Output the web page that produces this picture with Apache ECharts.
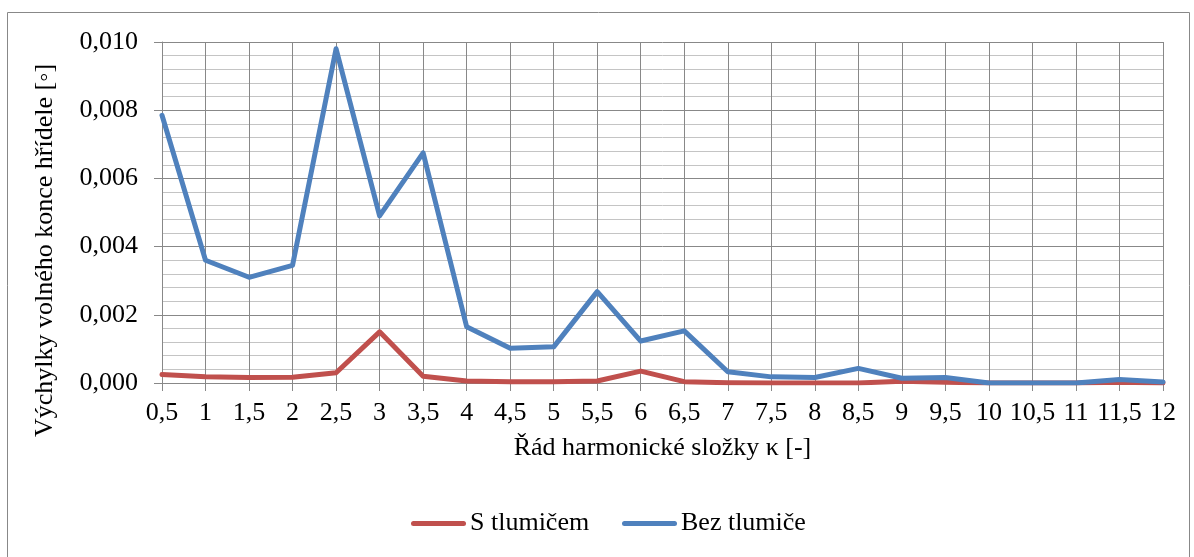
<!DOCTYPE html>
<html>
<head>
<meta charset="utf-8">
<script src="https://cdn.jsdelivr.net/npm/echarts@6/dist/echarts.min.js"></script>
<style>
  html, body { margin: 0; padding: 0; background: #fff; }
  #chart { width: 1194px; height: 557px; }
</style>
</head>
<body>
<div id="chart"></div>
<script>
// harmonic order (x categories)
var orders = ['0,5', '1', '1,5', '2', '2,5', '3', '3,5', '4', '4,5', '5', '5,5', '6',
              '6,5', '7', '7,5', '8', '8,5', '9', '9,5', '10', '10,5', '11', '11,5', '12'];

var sTlumicem = [0.00025, 0.00018, 0.00016, 0.00017, 0.00030, 0.00150, 0.00020, 0.00006,
                 0.00004, 0.00004, 0.00006, 0.00035, 0.00004, 0.00001, 0.00000, 0.00000,
                 0.00000, 0.00005, 0.00002, 0.00000, 0.00000, 0.00000, 0.00002, 0.00000];

var bezTlumice = [0.00785, 0.00360, 0.00310, 0.00345, 0.00980, 0.00490, 0.00675, 0.00165,
                  0.00102, 0.00106, 0.00268, 0.00123, 0.00153, 0.00033, 0.00018, 0.00016,
                  0.00043, 0.00014, 0.00016, 0.00000, 0.00000, 0.00000, 0.00010, 0.00003];

var seriesNames = ['S tlumičem', 'Bez tlumiče'];
var seriesColors = ['#C0504D', '#4F81BD'];

var font = 'Liberation Serif';
var fs = 26;

// legend drawn as graphic so it keeps the serif font
var legendItems = [];
var lx = [411, 622];
seriesNames.forEach(function (n, i) {
    legendItems.push({
        type: 'rect',
        shape: { x: lx[i], y: 521, width: 55, height: 5, r: 2.5 },
        style: { fill: seriesColors[i] },
        silent: true
    });
    legendItems.push({
        type: 'text',
        x: lx[i] + 59, y: 523,
        style: { text: n, fontFamily: font, fontSize: fs, fill: '#000', verticalAlign: 'middle' },
        silent: true
    });
});

var myChart = echarts.init(document.getElementById('chart'));
var option = {
    animation: false,
    textStyle: { fontFamily: font, color: '#000' },
    graphic: [{
        type: 'rect',
        shape: { x: 7.5, y: 12.5, width: 1182, height: 560 },
        style: { fill: 'none', stroke: '#888', lineWidth: 1 },
        silent: true
    }].concat(legendItems),
    grid: { left: 162, right: 31, top: 42, bottom: 174 },
    xAxis: {
        type: 'category',
        data: orders,
        boundaryGap: false,
        name: 'Řád harmonické složky κ [-]',
        nameLocation: 'middle',
        nameGap: 52,
        nameTextStyle: { fontFamily: font, fontSize: fs, color: '#000' },
        axisLine: { lineStyle: { color: '#888' } },
        axisTick: { show: true, length: 8, alignWithLabel: true, lineStyle: { color: '#888' } },
        axisLabel: { fontFamily: font, fontSize: fs, color: '#000', margin: 17, interval: 0 },
        splitLine: { show: true, lineStyle: { color: '#888', width: 1 } }
    },
    yAxis: {
        type: 'value',
        min: 0,
        max: 0.01,
        interval: 0.002,
        name: 'Výchylky volného konce hřídele [◦]',
        nameLocation: 'middle',
        nameGap: 104,
        nameTextStyle: { fontFamily: font, fontSize: fs, color: '#000', padding: [0, 76, 0, 0] },
        axisLine: { show: true, lineStyle: { color: '#888' } },
        axisTick: { show: true, length: 8, lineStyle: { color: '#888' } },
        axisLabel: {
            fontFamily: font, fontSize: fs, color: '#000', margin: 24,
            formatter: function (v) { return v.toFixed(3).replace('.', ','); }
        },
        splitLine: { show: true, lineStyle: { color: '#888', width: 1 } },
        minorTick: { show: false, splitNumber: 5 },
        minorSplitLine: { show: true, lineStyle: { color: '#c4c4c4', width: 1 } }
    },
    series: [
        {
            name: seriesNames[0],
            type: 'line',
            data: sTlumicem,
            symbol: 'none',
            lineStyle: { color: seriesColors[0], width: 5, cap: 'round', join: 'round' },
            itemStyle: { color: seriesColors[0] }
        },
        {
            name: seriesNames[1],
            type: 'line',
            data: bezTlumice,
            symbol: 'none',
            lineStyle: { color: seriesColors[1], width: 5, cap: 'round', join: 'round' },
            itemStyle: { color: seriesColors[1] }
        }
    ]
};
myChart.setOption(option);
window.addEventListener('resize', function () {
    myChart.resize();
});
</script>
</body>
</html>
